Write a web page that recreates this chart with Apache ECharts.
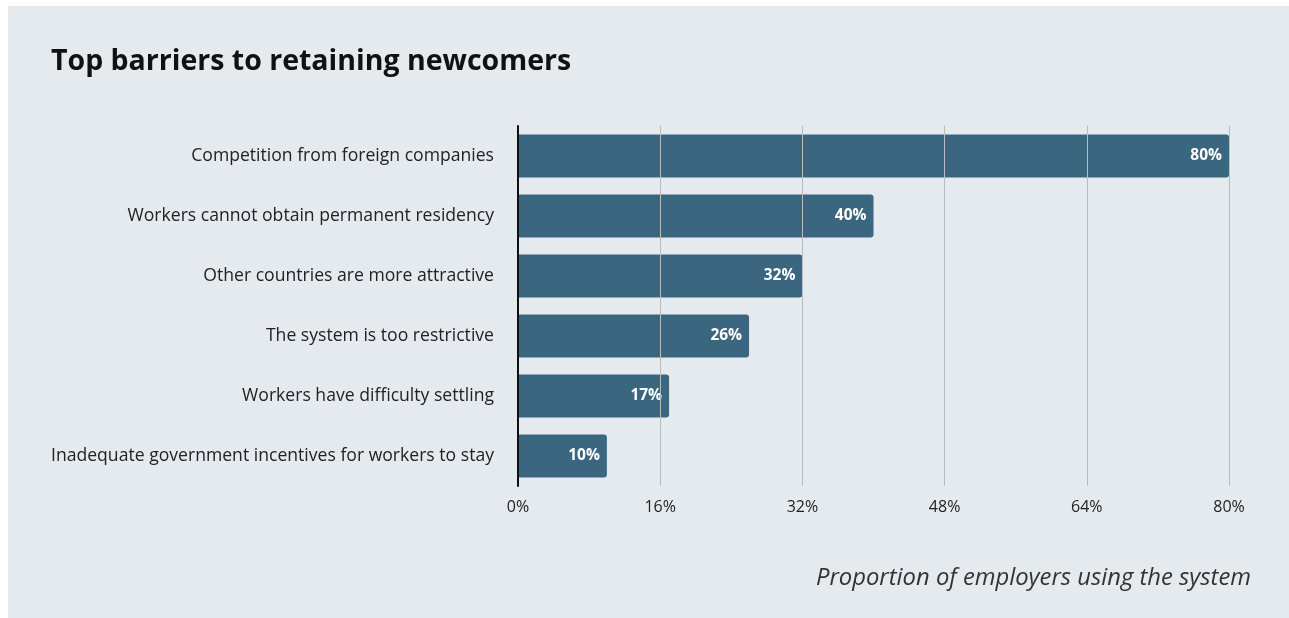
<!DOCTYPE html>
<html>
<head>
<meta charset="utf-8">
<script src="https://cdn.jsdelivr.net/npm/echarts@6/dist/echarts.min.js"></script>
<style>
  html, body { margin: 0; padding: 0; background: #ffffff; }
  #chart { width: 1289px; height: 618px; }
</style>
</head>
<body>
<div id="chart"></div>
<script>
// Survey answers, top to bottom
const barriers = [
  'Competition from foreign companies',
  'Workers cannot obtain permanent residency',
  'Other countries are more attractive',
  'The system is too restrictive',
  'Workers have difficulty settling',
  'Inadequate government incentives for workers to stay'
];
const shares = [80, 40, 32, 26, 17, 10];
const axisTicks = [0, 16, 32, 48, 64, 80];

const FONT = '"Open Sans", "Noto Sans", "DejaVu Sans", sans-serif';
const chart = echarts.init(document.getElementById('chart'));

chart.setOption({
  backgroundColor: '#ffffff',
  animation: false,
  graphic: [{
    type: 'rect',
    z: -10,
    shape: { x: 8, y: 6, width: 1281, height: 612 },
    style: { fill: '#e5eaef' }
  }],
  title: [{
    text: 'Top barriers to retaining newcomers',
    left: 51,
    top: 47,
    padding: 0,
    textStyle: { fontFamily: FONT, fontSize: 28.5, fontWeight: 'bold', color: '#111111' }
  }, {
    text: 'Proportion of employers using the system',
    right: 38,
    top: 566,
    padding: 0,
    textStyle: { fontFamily: FONT, fontSize: 23.8, fontWeight: 'normal', fontStyle: 'italic', color: '#333333' }
  }],
  grid: { left: 518, right: 60, top: 126, bottom: 132 },
  xAxis: {
    type: 'value',
    min: axisTicks[0],
    max: axisTicks[axisTicks.length - 1],
    interval: axisTicks[1] - axisTicks[0],
    z: 5,
    axisLine: { show: false },
    axisTick: { show: false },
    splitLine: { show: true, lineStyle: { color: '#b9bdc1', width: 1 } },
    axisLabel: {
      formatter: '{value}%',
      margin: 13,
      fontFamily: FONT,
      fontSize: 16,
      color: '#222222'
    }
  },
  yAxis: {
    type: 'category',
    inverse: true,
    data: barriers,
    z: 6,
    axisLine: { show: true, lineStyle: { color: '#111111', width: 2 } },
    axisTick: { show: false },
    axisLabel: {
      margin: 24,
      fontFamily: FONT,
      fontSize: 17.6,
      color: '#222222'
    }
  },
  series: [{
    type: 'bar',
    data: shares,
    barWidth: 43,
    itemStyle: { color: '#3a6680', borderRadius: [0, 3, 3, 0] },
    label: {
      show: true,
      position: 'insideRight',
      distance: 7,
      formatter: '{c}%',
      fontFamily: FONT,
      fontSize: 15.5,
      fontWeight: 'bold',
      color: '#ffffff'
    }
  }]
});
</script>
</body>
</html>
